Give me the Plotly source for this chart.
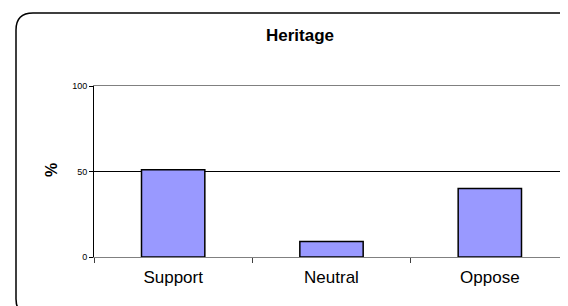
import plotly.graph_objects as go

categories = ["Support", "Neutral", "Oppose"]
values = [51, 9, 40]
y_ticks = [0, 50, 100]
title_text = "Heritage"
y_title = "%"

W, H = 568, 306
L, R, T, B = 86, 561, 78, 249

def fx(px):
    return (px - L) / (R - L)

def fy(py):
    return (B - py) / (B - T)

# outer rounded frame in pixel terms -> paper fractions
oL, oT, oR, oB, r = 8, 5, 573, 308, 17
pts = [
    ("M", oL + r, oT), ("L", oR - r, oT), ("Q", oR, oT, oR, oT + r),
    ("L", oR, oB - r), ("Q", oR, oB, oR - r, oB), ("L", oL + r, oB),
    ("Q", oL, oB, oL, oB - r), ("L", oL, oT + r), ("Q", oL, oT, oL + r, oT),
]
path = ""
for p in pts:
    if p[0] == "Q":
        path += f"Q{fx(p[1]):.5f},{fy(p[2]):.5f} {fx(p[3]):.5f},{fy(p[4]):.5f} "
    else:
        path += f"{p[0]}{fx(p[1]):.5f},{fy(p[2]):.5f} "
path += "Z"

fig = go.Figure(
    go.Bar(
        x=categories,
        y=values,
        marker=dict(color="#9999FF", line=dict(color="#000000", width=1.5)),
        width=0.4,
        hoverinfo="skip",
    )
)

fig.update_layout(
    width=W,
    height=H,
    margin=dict(l=L, r=W - R, t=T, b=H - B),
    paper_bgcolor="white",
    plot_bgcolor="white",
    showlegend=False,
    font=dict(family="Liberation Sans, Arial, sans-serif", color="#000000"),
    shapes=[
        dict(type="path", xref="paper", yref="paper", path=path,
             line=dict(color="#000000", width=1.5), layer="above"),
        dict(type="line", xref="paper", yref="paper", x0=1, x1=1, y0=0, y1=1,
             line=dict(color="#808080", width=1)),
    ],
    annotations=[
        dict(text=f"<b>{title_text}</b>", xref="paper", yref="paper",
             x=fx(292), y=fy(28), showarrow=False, xanchor="center", yanchor="middle",
             font=dict(size=17, family="Liberation Sans, Arial, sans-serif")),
        dict(text=f"<b>{y_title}</b>", xref="paper", yref="paper",
             x=fx(43), y=fy(162), showarrow=False, xanchor="center", yanchor="middle",
             textangle=-90, font=dict(size=16, family="Liberation Sans, Arial, sans-serif")),
    ],
)

fig.update_xaxes(
    type="category",
    tickson="boundaries",
    ticks="outside",
    ticklen=5,
    tickcolor="#404040",
    showline=True,
    linecolor="#808080",
    linewidth=1,
    mirror=True,
    showgrid=False,
    tickfont=dict(size=17),
    ticklabelstandoff=5,
)
fig.update_yaxes(
    range=[0, 100],
    tickvals=y_ticks,
    ticks="outside",
    ticklen=4,
    tickcolor="#000000",
    showline=True,
    linecolor="#000000",
    linewidth=1,
    showgrid=True,
    gridcolor="#000000",
    gridwidth=1,
    zeroline=False,
    tickfont=dict(size=9),
)

fig.write_html("out.html")
